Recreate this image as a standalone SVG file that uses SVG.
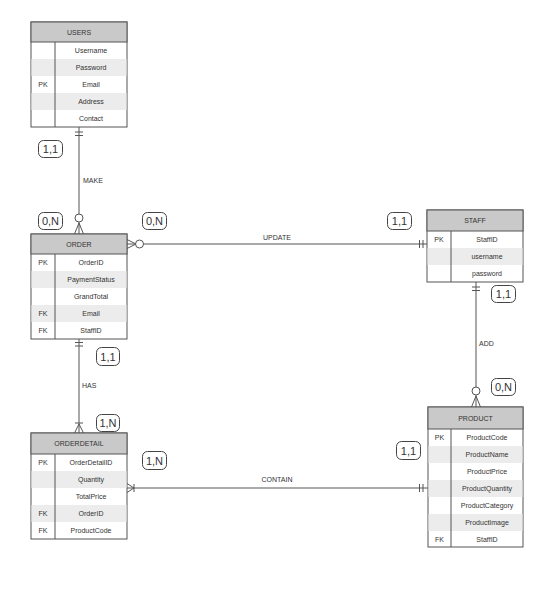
<svg xmlns="http://www.w3.org/2000/svg" width="546" height="593" viewBox="0 0 546 593">
<style>
.bg{fill:#ffffff}
.box{fill:#ffffff;stroke:#555;stroke-width:1}
.hd{fill:#c9c9c9;stroke:#555;stroke-width:1}
.st{fill:#ececec}
.sep{stroke:#555;stroke-width:1}
.t{font-family:"Liberation Sans",Arial,sans-serif;font-size:7px;fill:#333;text-anchor:middle;dominant-baseline:central}
.ln{stroke:#555;stroke-width:1;fill:none}
.ci{stroke:#555;stroke-width:1;fill:#fff}
.lb{fill:#fff;stroke:#444;stroke-width:1}
.lt{font-family:"Liberation Sans",Arial,sans-serif;font-size:11px;fill:#333;text-anchor:middle;dominant-baseline:central}
.cl{font-family:"Liberation Sans",Arial,sans-serif;font-size:7px;fill:#333;dominant-baseline:central}
</style>
<rect class="bg" width="546" height="593"/>

<g id="users">
<rect class="box" x="31" y="22" width="96" height="105"/>
<rect class="st" x="31.5" y="59" width="95" height="17"/>
<rect class="st" x="31.5" y="93" width="95" height="17"/>
<rect class="hd" x="31" y="22" width="96" height="20"/>
<line class="sep" x1="55" y1="42" x2="55" y2="127"/>
<text class="t" x="79" y="32">USERS</text>
<text class="t" x="91" y="50.5">Username</text>
<text class="t" x="91" y="67.5">Password</text>
<text class="t" x="43" y="84.5">PK</text>
<text class="t" x="91" y="84.5">Email</text>
<text class="t" x="91" y="101.5">Address</text>
<text class="t" x="91" y="118.5">Contact</text>
</g>

<g id="order">
<rect class="box" x="31" y="234" width="96" height="105"/>
<rect class="st" x="31.5" y="271" width="95" height="17"/>
<rect class="st" x="31.5" y="305" width="95" height="17"/>
<rect class="hd" x="31" y="234" width="96" height="20"/>
<line class="sep" x1="55" y1="254" x2="55" y2="339"/>
<text class="t" x="79" y="244">ORDER</text>
<text class="t" x="43" y="262.5">PK</text>
<text class="t" x="91" y="262.5">OrderID</text>
<text class="t" x="91" y="279.5">PaymentStatus</text>
<text class="t" x="91" y="296.5">GrandTotal</text>
<text class="t" x="43" y="313.5">FK</text>
<text class="t" x="91" y="313.5">Email</text>
<text class="t" x="43" y="330.5">FK</text>
<text class="t" x="91" y="330.5">StaffID</text>
</g>

<g id="staff">
<rect class="box" x="427" y="210" width="96" height="72"/>
<rect class="st" x="427.5" y="248" width="95" height="17"/>
<rect class="hd" x="427" y="210" width="96" height="21"/>
<line class="sep" x1="451" y1="231" x2="451" y2="282"/>
<text class="t" x="475" y="220.5">STAFF</text>
<text class="t" x="439" y="239.5">PK</text>
<text class="t" x="487" y="239.5">StaffID</text>
<text class="t" x="487" y="256.5">username</text>
<text class="t" x="487" y="273.5">password</text>
</g>

<g id="orderdetail">
<rect class="box" x="31" y="433" width="96" height="106"/>
<rect class="st" x="31.5" y="471" width="95" height="17"/>
<rect class="st" x="31.5" y="505" width="95" height="17"/>
<rect class="hd" x="31" y="433" width="96" height="21"/>
<line class="sep" x1="55" y1="454" x2="55" y2="539"/>
<text class="t" x="79" y="443.5">ORDERDETAIL</text>
<text class="t" x="43" y="462.5">PK</text>
<text class="t" x="91" y="462.5">OrderDetailID</text>
<text class="t" x="91" y="479.5">Quantity</text>
<text class="t" x="91" y="496.5">TotalPrice</text>
<text class="t" x="43" y="513.5">FK</text>
<text class="t" x="91" y="513.5">OrderID</text>
<text class="t" x="43" y="530.5">FK</text>
<text class="t" x="91" y="530.5">ProductCode</text>
</g>

<g id="product">
<rect class="box" x="428" y="407" width="95" height="140"/>
<rect class="st" x="428.5" y="446" width="94" height="17"/>
<rect class="st" x="428.5" y="480" width="94" height="17"/>
<rect class="st" x="428.5" y="514" width="94" height="17"/>
<rect class="hd" x="428" y="407" width="95" height="22"/>
<line class="sep" x1="451" y1="429" x2="451" y2="547"/>
<text class="t" x="475.5" y="418">PRODUCT</text>
<text class="t" x="439.5" y="437.5">PK</text>
<text class="t" x="487" y="437.5">ProductCode</text>
<text class="t" x="487" y="454.5">ProductName</text>
<text class="t" x="487" y="471.5">ProductPrice</text>
<text class="t" x="487" y="488.5">ProductQuantity</text>
<text class="t" x="487" y="505.5">ProductCategory</text>
<text class="t" x="487" y="522.5">ProductImage</text>
<text class="t" x="439.5" y="539.5">FK</text>
<text class="t" x="487" y="539.5">StaffID</text>
</g>

<g id="connectors">
<!-- MAKE -->
<line class="ln" x1="79" y1="127" x2="79" y2="214"/>
<line class="ln" x1="75" y1="132" x2="83" y2="132"/>
<line class="ln" x1="75" y1="135.5" x2="83" y2="135.5"/>
<circle class="ci" cx="79" cy="218" r="4"/>
<path class="ln" d="M74.5 234 L79 223 L83.5 234 M79 222 L79 234"/>
<text class="cl" x="83" y="180">MAKE</text>

<!-- UPDATE -->
<line class="ln" x1="143.5" y1="244" x2="427" y2="244"/>
<path class="ln" d="M127 239.5 L136 244 L127 248.5 M127 244 L135 244"/>
<circle class="ci" cx="139.5" cy="244" r="4"/>
<line class="ln" x1="419.5" y1="240" x2="419.5" y2="248"/>
<line class="ln" x1="423" y1="240" x2="423" y2="248"/>
<text class="t" x="277" y="237">UPDATE</text>

<!-- ADD -->
<line class="ln" x1="476" y1="282" x2="476" y2="387"/>
<line class="ln" x1="472" y1="287" x2="480" y2="287"/>
<line class="ln" x1="472" y1="290.5" x2="480" y2="290.5"/>
<circle class="ci" cx="476" cy="391" r="4"/>
<path class="ln" d="M471.5 407 L476 396 L480.5 407 M476 395 L476 407"/>
<text class="cl" x="479" y="343">ADD</text>

<!-- HAS -->
<line class="ln" x1="79" y1="339" x2="79" y2="433"/>
<line class="ln" x1="75" y1="342.5" x2="83" y2="342.5"/>
<line class="ln" x1="75" y1="346" x2="83" y2="346"/>
<line class="ln" x1="75" y1="423" x2="83" y2="423"/>
<path class="ln" d="M74.5 433 L79 424 L83.5 433"/>
<text class="cl" x="82" y="385">HAS</text>

<!-- CONTAIN -->
<line class="ln" x1="127" y1="488" x2="428" y2="488"/>
<path class="ln" d="M127 483.5 L134 488 L127 492.5"/>
<line class="ln" x1="134" y1="484" x2="134" y2="492"/>
<line class="ln" x1="419.5" y1="484" x2="419.5" y2="492"/>
<line class="ln" x1="423" y1="484" x2="423" y2="492"/>
<text class="t" x="277" y="479">CONTAIN</text>
</g>

<g id="cardinalities">
<rect class="lb" x="38.5" y="140.5" width="24" height="17" rx="5"/>
<text class="lt" x="50.5" y="149">1,1</text>
<rect class="lb" x="38.5" y="212.5" width="24" height="17" rx="5"/>
<text class="lt" x="50.5" y="221">0,N</text>
<rect class="lb" x="142.5" y="212.5" width="24" height="17" rx="5"/>
<text class="lt" x="154.5" y="221">0,N</text>
<rect class="lb" x="387.5" y="212.5" width="24" height="17" rx="5"/>
<text class="lt" x="399.5" y="221">1,1</text>
<rect class="lb" x="491.5" y="285.5" width="24" height="17" rx="5"/>
<text class="lt" x="503.5" y="294">1,1</text>
<rect class="lb" x="491.5" y="378.5" width="24" height="17" rx="5"/>
<text class="lt" x="503.5" y="387">0,N</text>
<rect class="lb" x="96.5" y="347.5" width="23" height="18" rx="5"/>
<text class="lt" x="108" y="356.5">1,1</text>
<rect class="lb" x="96.5" y="414.5" width="23" height="17" rx="5"/>
<text class="lt" x="108" y="423">1,N</text>
<rect class="lb" x="142.5" y="451.5" width="24" height="18" rx="5"/>
<text class="lt" x="154.5" y="460.5">1,N</text>
<rect class="lb" x="396.5" y="441.5" width="24" height="18" rx="5"/>
<text class="lt" x="408.5" y="450.5">1,1</text>
</g>
</svg>
